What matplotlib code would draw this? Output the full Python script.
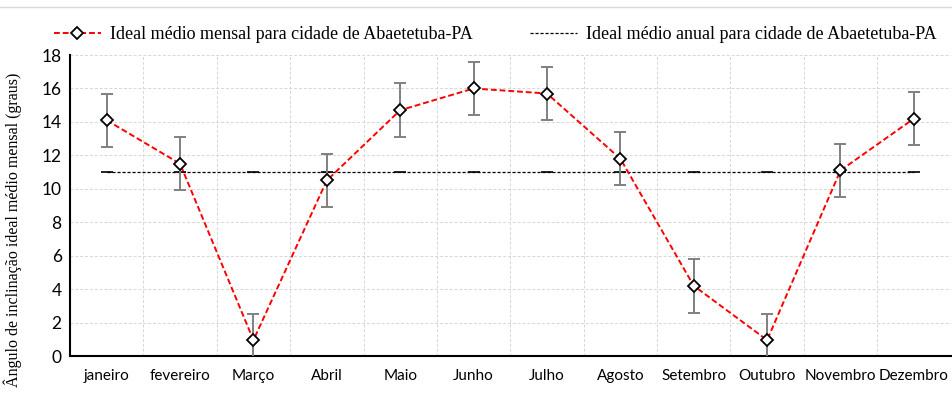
import numpy as np
import matplotlib.pyplot as plt
from matplotlib.lines import Line2D

meses = ['janeiro', 'fevereiro', 'Março', 'Abril', 'Maio', 'Junho',
         'Julho', 'Agosto', 'Setembro', 'Outubro', 'Novembro', 'Dezembro']
ideal_mensal = [14.1, 11.5, 0.95, 10.5, 14.7, 16.0, 15.7, 11.8, 4.2, 0.95, 11.1, 14.2]
erro = [1.6, 1.6, 1.55, 1.6, 1.6, 1.6, 1.6, 1.6, 1.6, 1.55, 1.6, 1.6]
ideal_anual = 11.0

serif = 'Liberation Serif'
sans = 'Lato'

fig = plt.figure(figsize=(9.52, 3.96), dpi=100)
ax = fig.add_axes([0.0735, 0.101, 0.925, 0.760])

x = np.arange(len(meses))

# Grade tracejada: linhas horizontais a cada 2 graus, verticais entre os meses
for yv in range(2, 19, 2):
    ax.axhline(yv, color='#d6d6d6', lw=0.7, ls=(0, (3, 2)), zorder=0)
for xv in np.arange(0.5, 11.5, 1):
    ax.axvline(xv, color='#d6d6d6', lw=0.7, ls=(0, (3, 2)), zorder=0)

# Média anual
ax.plot(x, [ideal_anual] * len(x), color='black', lw=0.9, ls=(0, (2.5, 1.5)),
        marker='_', ms=8, mew=1.2, zorder=2)

# Média mensal com barras de erro
ax.errorbar(x, ideal_mensal, yerr=erro, fmt='none', ecolor='#808080',
            elinewidth=1.4, capsize=4, capthick=1.4, zorder=3)
ax.plot(x, ideal_mensal, color='#ff0000', lw=1.4, ls=(0, (3, 1.5)), zorder=4)
ax.plot(x, ideal_mensal, ls='none', marker='D', ms=6, mfc='white',
        mec='black', mew=1.3, zorder=5)

ax.set_xlim(-0.5, 11.5)
ax.set_ylim(0, 18)
ax.set_yticks(range(0, 19, 2))
ax.set_xticks(x)
ax.set_xticklabels(meses, fontsize=11, family=sans)
for lbl in ax.get_yticklabels():
    lbl.set_fontsize(12.5)
    lbl.set_family(sans)
ax.tick_params(axis='both', length=0, pad=6)
ax.tick_params(axis='x', pad=9)

for side in ['top', 'right']:
    ax.spines[side].set_visible(False)
for side in ['left', 'bottom']:
    ax.spines[side].set_linewidth(1.5)
    ax.spines[side].set_color('black')

ax.set_ylabel('Ângulo de inclinação ideal médio mensal (graus)',
              family=serif, fontsize=11.5)
ax.yaxis.set_label_coords(-0.055, 0.42)

handles = [
    Line2D([], [], color='#ff0000', lw=1.4, ls=(0, (3, 1.5)), marker='D', ms=6,
           mfc='white', mec='black', mew=1.3),
    Line2D([], [], color='black', lw=0.9, ls=(0, (2.5, 1.5))),
]
labels = ['Ideal médio mensal para cidade de Abaetetuba-PA',
          'Ideal médio anual para cidade de Abaetetuba-PA']
ax.legend(handles, labels, loc='lower center', bbox_to_anchor=(0.483, 0.985),
          ncol=2, frameon=False, prop={'family': serif, 'size': 13},
          handlelength=2.6, columnspacing=3.2, handletextpad=0.5)

# Borda superior da área do gráfico
fig.add_artist(Line2D([0, 1], [0.982, 0.982], color='#d9d9d9', lw=1,
                      transform=fig.transFigure))

fig.savefig('out.png', dpi=100)
